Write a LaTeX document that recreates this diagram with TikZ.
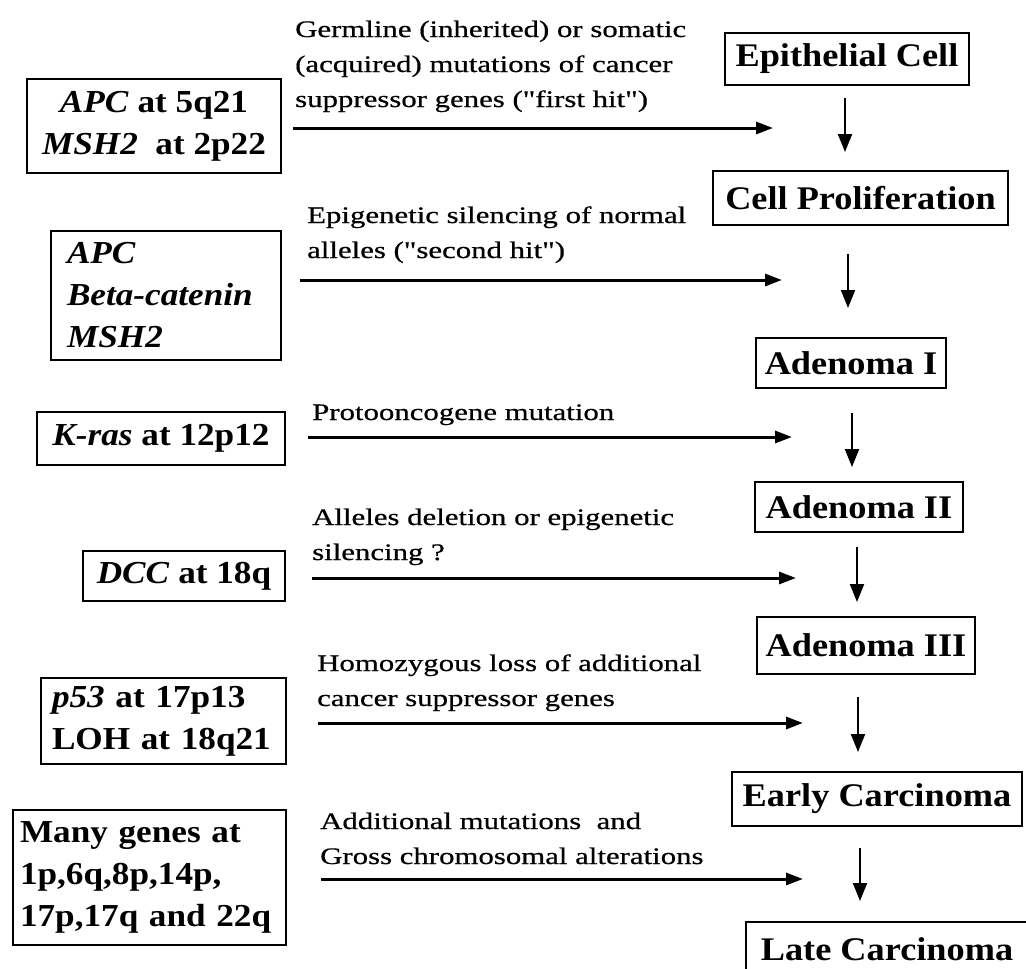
\documentclass[tikz,border=0pt]{standalone}
\usepackage{fontspec}
\setmainfont{Liberation Serif}
\newfontfamily\boxfont{Liberation Serif}[FakeStretch=1.1]
\newfontfamily\labfont{Liberation Serif}[FakeStretch=1.3,FakeBold=0.6]
\usetikzlibrary{arrows.meta}
\begin{document}
\begin{tikzpicture}[x=1pt,y=-1pt,
  gbox/.style={draw,line width=1.8pt,inner sep=0pt,font=\boxfont\bfseries\fontsize{32}{42}\selectfont},
  sbox/.style={draw,line width=1.8pt,inner sep=0pt,font=\boxfont\bfseries\fontsize{33}{40}\selectfont},
  lab/.style={anchor=base west,inner sep=0pt,align=left,font=\labfont\fontsize{23.7}{35}\selectfont},
  harr/.style={line width=3pt,-{Triangle[length=17pt,width=12pt]}},
  varr/.style={line width=2pt,-{Triangle[length=18pt,width=14pt]}}]
\useasboundingbox (0,0) rectangle (1026,969);
\fill[white] (0,0) rectangle (1026,969);
\clip (0,0) rectangle (1026,969);

% left boxes (genes)
\node[gbox,minimum width=254pt,minimum height=94pt,align=center] (g1) at (154,126) {\textit{APC} at 5q21\\\textit{MSH2}\ \ at 2p22};
\node[gbox,minimum width=230pt,minimum height=129pt,text width=198pt,align=left] (g2) at (166,295.5) {\textit{APC}\\\textit{Beta-catenin}\\\textit{MSH2}};
\node[gbox,minimum width=248pt,minimum height=53pt] (g3) at (161,438.5) {\textit{K-ras} at 12p12};
\node[gbox,minimum width=202pt,minimum height=50pt] (g4) at (184,576) {\textit{DCC} at 18q};
\node[gbox,minimum width=245pt,minimum height=86pt,text width=223pt,align=left] (g5) at (163.5,721) {\textit{p53} at 17p13\\LOH at 18q21};
\node[gbox,minimum width=273pt,minimum height=135pt,text width=259pt,align=left] (g6) at (149.5,877.5) {Many genes at\\1p,6q,8p,14p,\\17p,17q and 22q};

% right boxes (stages)
\node[sbox,minimum width=244pt,minimum height=52pt] (s1) at (847,59) {Epithelial Cell};
\node[sbox,minimum width=295pt,minimum height=54pt] (s2) at (860.5,198) {Cell Proliferation};
\node[sbox,minimum width=190pt,minimum height=50pt] (s3) at (851,363) {Adenoma I};
\node[sbox,minimum width=208pt,minimum height=50pt] (s4) at (859,507) {Adenoma II};
\node[sbox,minimum width=218pt,minimum height=57pt] (s5) at (866,645.5) {Adenoma III};
\node[sbox,minimum width=290pt,minimum height=54pt] (s6) at (877,799) {Early Carcinoma};
\node[sbox,minimum width=282pt,minimum height=54pt] (s7) at (887,949) {Late Carcinoma};

% labels (base anchor = baseline of the last line)
\node[lab] (t1) at (295,107) {Germline (inherited) or somatic\\(acquired) mutations of cancer\\suppressor genes ("first hit")};
\node[lab] (t2) at (307,258) {Epigenetic silencing of normal\\alleles ("second hit")};
\node[lab] (t3) at (312,420) {Protooncogene mutation};
\node[lab] (t4) at (312,560) {Alleles deletion or epigenetic\\silencing ?};
\node[lab] (t5) at (317,706) {Homozygous loss of additional\\cancer suppressor genes};
\node[lab] (t6) at (320,864) {Additional mutations\ \ and\\Gross chromosomal alterations};

% horizontal arrows
\coordinate (a1s) at (293,128); \coordinate (a1e) at (773,128);
\coordinate (a2s) at (300,280); \coordinate (a2e) at (782,280);
\coordinate (a3s) at (308,437); \coordinate (a3e) at (792,437);
\coordinate (a4s) at (312,578); \coordinate (a4e) at (796,578);
\coordinate (a5s) at (318,723); \coordinate (a5e) at (803,723);
\coordinate (a6s) at (321,879); \coordinate (a6e) at (803,879);
\draw[harr] (a1s) -- (a1e);
\draw[harr] (a2s) -- (a2e);
\draw[harr] (a3s) -- (a3e);
\draw[harr] (a4s) -- (a4e);
\draw[harr] (a5s) -- (a5e);
\draw[harr] (a6s) -- (a6e);

% vertical arrows
\coordinate (v1s) at (845,98);  \coordinate (v1e) at (845,152);
\coordinate (v2s) at (848,254); \coordinate (v2e) at (848,308);
\coordinate (v3s) at (852,413); \coordinate (v3e) at (852,467);
\coordinate (v4s) at (857,547); \coordinate (v4e) at (857,602);
\coordinate (v5s) at (858,697); \coordinate (v5e) at (858,752);
\coordinate (v6s) at (860,848); \coordinate (v6e) at (860,901);
\draw[varr] (v1s) -- (v1e);
\draw[varr] (v2s) -- (v2e);
\draw[varr] (v3s) -- (v3e);
\draw[varr] (v4s) -- (v4e);
\draw[varr] (v5s) -- (v5e);
\draw[varr] (v6s) -- (v6e);
\end{tikzpicture}
\end{document}
